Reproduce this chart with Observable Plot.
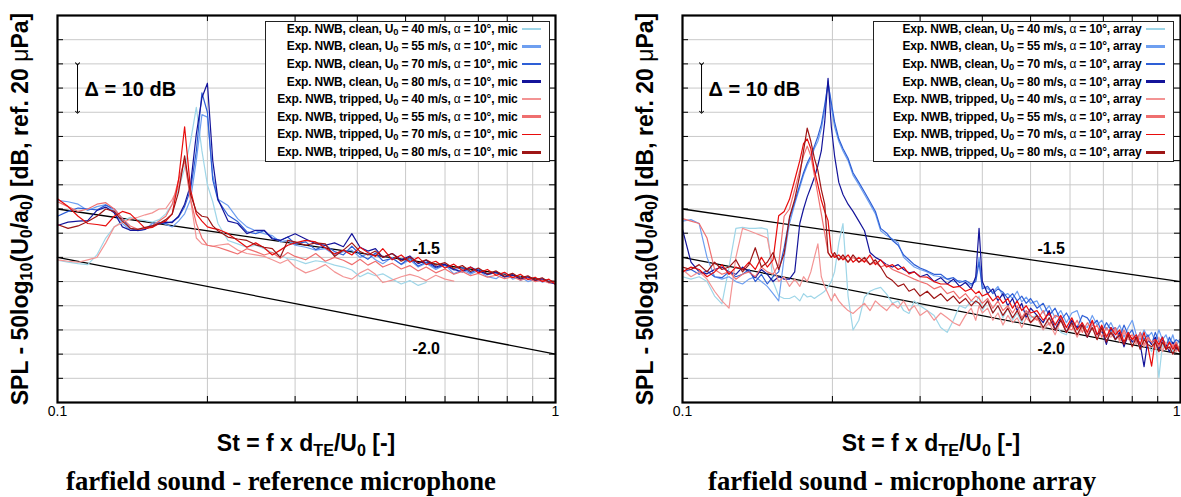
<!DOCTYPE html>
<html><head><meta charset="utf-8">
<script src="https://cdn.jsdelivr.net/npm/d3@7"></script>
<script src="https://cdn.jsdelivr.net/npm/@observablehq/plot@0.6"></script>
<style>
body{margin:0;background:#fff}
#wrap{position:relative;width:1181px;height:497px;overflow:hidden;background:#fff;font-family:"Liberation Sans",Arial,Helvetica,sans-serif;color:#000}
.panel{position:absolute;top:0}
.panel svg{max-width:none !important}
.ytitle{position:absolute;white-space:nowrap;font-weight:bold;font-size:23px;line-height:1;transform:translate(-50%,-50%) rotate(-90deg)}
.xtitle{position:absolute;white-space:nowrap;font-weight:bold;font-size:23px;line-height:1;transform:translateX(-50%)}
.caption{position:absolute;white-space:nowrap;font-family:"Liberation Serif","Times New Roman",serif;font-weight:bold;font-size:26.7px;line-height:1;transform:translateX(-50%)}
sub{font-size:70%;vertical-align:-0.3em;line-height:0}
.mu{font-weight:normal}
.legend{position:absolute;border:1.5px solid #222;background:#fff;box-sizing:border-box}
.lrow{position:absolute;white-space:nowrap;font-weight:bold;font-size:12px;line-height:14px;letter-spacing:-0.2px;text-align:right}
.lrow sub{font-size:78%;vertical-align:-2px}
.lsw{position:absolute}
</style></head><body><div id="wrap"></div>
<script>
// ---------- series identity ----------
const surfaces = ["clean","clean","clean","clean","tripped","tripped","tripped","tripped"];
const speeds = [40,55,70,80,40,55,70,80];
const seriesColors = ["#9fd6e8","#6e9ff0","#2e5fd6","#14149a","#f39494","#ef6f6f","#e80c0c","#9e1515"];
const swatchWidths = [1.5,3,1.5,3,1.5,3,1.5,3];

// ---------- axes / grid ----------
const xTicks = [0.1, 1];
const xTickLabels = ["0.1", "1"];
const gridSt = [0.2,0.3,0.4,0.5,0.6,0.7,0.8,0.9];
const gridDb = [5,10,15,20,25,30,35,40,45,50,55,60,65,70,75];

// ---------- reference slopes ----------
const refSt = [0.1, 1];
const ref15 = [40, 25];
const ref20 = [30, 10];
const slopeLabels = ["-1.5", "-2.0"];
const slopeLabelSt = [0.55, 0.55];
const slopeLabelDb = [31.8, 11.0];
const deltaText = "Δ = 10 dB";
const deltaDb = [70, 60];

// ---------- left panel: reference microphone ----------
const stLeft = [0.100,0.105,0.110,0.115,0.120,0.125,0.130,0.135,0.140,0.145,0.150,0.155,0.160,0.165,0.170,0.175,0.180,0.185,0.190,0.195,0.200,0.205,0.210,0.220,0.230,0.240,0.250,0.260,0.270,0.280,0.290,0.300,0.315,0.330,0.345,0.360,0.375,0.390,0.405,0.420,0.435,0.450,0.470,0.490,0.510,0.530,0.550,0.575,0.600,0.625,0.650,0.675,0.700,0.730,0.760,0.790,0.820,0.850,0.880,0.910,0.940,0.970,1.000];
const micClean40 = [29.4,29,28.7,28.5,30.5,34,36.3,37.5,38.3,37.8,37.6,37.3,37.8,39,41,44,48.5,54,61,52,
 45,41.5,37,33.5,32.8,32.1,32.5,31.8,31,30.5,29.7,29.5,28.7,29.3,29,28.4,28,27.4,26,26.8,26.2,26.6,25.5,24.5,25.2,24.2,24.8,
 null,null,null,null,null,null,null,null,null,null,null,null,null,null,null,null];
const micClean55 = [41.8,41.5,41,39.7,40.5,40.9,39.5,37,35.6,35.6,35.8,37,37.3,36.8,36.3,37.5,39,42,50,59.5,
 59,47,42,40.7,38,36.3,35.5,34.9,34.5,33.2,33.5,32.5,32.1,31.5,31.8,30.5,31.2,31.5,30,30.8,29.5,28.7,30,28.5,29.5,28,28.8,27.5,28.5,26.6,27.5,26.5,27.3,26,25.6,26.8,25.5,26,25,25.5,24.9,25.2,24.6];
const micClean70 = [38.5,39.5,40.2,40,39.8,40.8,40,38,36,35.5,35.9,36.6,37.2,37,37.4,38.3,40.5,44,52,64,
 60,46,41.8,38.7,37.4,35.3,34.9,35.5,34,33.5,34.2,32.8,33.2,31.6,32.5,31.2,30.5,32.3,30.6,29.6,30.9,29.3,29.8,28.6,29.9,28.2,29,27.8,28.4,27.4,27.9,26.8,27.6,26.4,26.9,25.9,26.4,25.3,25.9,25.1,25.6,24.8,25];
const micClean80 = [36.6,37.3,37.5,37.6,39.7,40.4,39.2,36.3,35.6,35.6,35.8,36.5,36.9,37.3,37.2,38.5,41,45,55.5,63,
 66,50,42,37.5,37,34.9,35.6,35.6,33.8,33.5,34.2,34.9,33.8,32.8,32.5,33,32.2,34.9,32.1,31.3,31.8,30,30.8,29.5,30.3,28.7,29.4,28,28.6,27.5,27,28,27.2,26.5,27,26,26.4,25.5,26,25.2,25.5,24.8,24.5];
const micTripped40 = [29.5,29.2,29,29.5,30,33,36.3,37.2,37.9,38.3,38.8,39.2,40,40.1,42,44.5,50.5,42,34,32.8,
 32.5,32.3,32.5,32.8,31.5,30.8,30.5,30.2,29.5,28.8,29.5,28,26.8,27.5,28.5,27,26,25.5,26.8,27.6,26.5,24.8,25.3,26,26.5,26,25.2,26.3,25.5,25.1,
 null,null,null,null,null,null,null,null,null,null,null,null,null];
const micTripped55 = [41.5,40.5,39.5,40,41,41.3,40,38,36.5,35.8,36,36.5,37.5,38.5,41,46,50,42,37,34,
 32.5,32.3,32.1,31.4,30.7,31.8,31.2,30.5,31,29.8,31,30.2,29.5,30.8,29.2,30,29.4,28.5,29.6,28.4,29.2,28,28.8,27.6,28.3,27.2,28,26.8,27.6,26.5,27.1,26.2,26.7,25.9,26.3,25.6,26,25.3,25.7,25,25.3,24.7,24.9];
const micTripped70 = [42.1,40.5,38.5,37,36.8,36.5,38.5,39.5,39,37.5,36,36.2,37,37.5,39,46,57,44,39,37.5,
 36.3,36,35.8,34.9,33.5,32.1,33,32,30.5,31.5,32.5,33,33.5,33.2,32,30.7,31.5,30.5,32.1,31,30.2,31.8,29.5,30.5,29,30,28.5,29.2,27.8,28.6,27.3,28,26.8,27.5,26.3,26.9,25.8,26.5,25.4,25.9,25,25.5,24.4];
const micTripped80 = [36.8,36,36.5,37.4,38.5,40,39.5,37.5,36,35.8,36.2,36.5,37,37.8,39,43.5,51,43,39.5,38.5,
 38.3,36.5,35.5,34.2,33.8,33.5,32.6,32.1,31.8,30,33.5,33.2,32.5,33,32.8,30.2,31.5,33,31.2,30.5,31.3,30,30.8,29.2,30.1,28.9,29.5,28.4,28.9,27.7,28.3,27.1,27.8,26.6,27.2,26.1,26.7,25.7,26.2,25.3,25.8,24.9,25.1];

// ---------- right panel: microphone array ----------
const stRight = [0.100,0.104,0.108,0.112,0.116,0.120,0.124,0.128,0.132,0.136,0.140,0.144,0.148,0.152,0.156,0.160,
 0.164,0.168,0.172,0.175,0.178,0.181,0.184,0.187,0.190,0.193,0.196,0.199,0.202,0.206,0.210,0.215,0.220,
 0.226,0.232,0.238,0.244,0.250,0.257,0.264,0.271,0.278,0.285,0.292,0.300,
 0.310,0.320,0.330,0.340,0.350,0.360,0.370,0.380,0.388,0.394,0.400,0.410,0.420,0.430,0.440,0.450,0.460,0.470,0.480,0.490,0.500,
 0.515,0.530,0.545,0.560,0.575,0.590,0.605,0.620,0.635,0.650,0.665,0.680,0.695,0.710,0.725,0.740,0.755,0.770,0.785,0.800,0.815,0.830,0.845,0.860,0.875,0.890,0.905,0.920,0.935,0.950,0.965,0.980,0.995];
const arrClean40 = [26,25.5,26,25,22,20.4,28,36,36.2,36,36,36.1,35.8,25,22,21.5,
 21.5,22,21,22.5,21.8,22,21.5,22,22.5,23,24,25,27,33,37,22,15,
 17,21.8,23,23.5,23.8,22.4,20.5,21,19,18.4,21,20,
 19,18,15.5,14.5,17,20,19.5,21,20.5,22,19,21,18.5,20,17.5,19.5,17,18.5,16.5,19,17.5,
 18,15,17.5,16.5,14.5,14,17,15,16,13.5,15.5,14,15,12.5,15,13,14,12,14.5,12.5,13.5,11,14,12,10.5,13,5.2,12,11,13,10.5,12,11];
const arrClean55 = [37.5,37.8,37,30,26,25.5,26,25,24.5,25.5,26,25,24,22.5,21,30,
 37,41,44.5,47,49,50.5,52.5,54,56.5,60.5,66.5,61,57,54,52,50,47,
 45,43,41,39,35.5,34.5,33.8,33,30,29,28,27.5,
 27,26.2,26,25.5,25,25.2,24.8,24.2,25.5,30,24,23.5,22.8,24,22,22.5,21.5,23,20.8,21.8,20.5,
 21,18.5,20,17.5,19,16.5,18.5,19,16,15.5,18,16,17,15,16.5,14.5,16,13.5,15.5,17,14,13,15,13.5,14.5,12.5,15,13,14,12,14,11.5,13];
const arrClean70 = [27,27.5,26.5,27.2,26,25.8,27,26,26.5,27.5,25,26.5,24.5,26,27,32,
 38,41.5,45,47.5,49.5,51,53,55,57.5,61.5,66,62,58,54.5,52.5,50.5,47.5,
 45.5,43.5,41.5,39.5,36,35,33.5,32.5,30.5,29.5,28.5,27.8,
 27.2,26.5,26.5,25.5,25.8,24.8,25.2,24.5,25,29,23.5,24,22.5,23.5,22.8,21.5,22.5,21,22,20.5,21.5,
 19.5,20.5,18,19.5,17,18.5,16.5,15.5,18,17.5,16,17,14.5,16.5,15,15.5,13.5,16,14,15,12.5,14.5,13,14,12,14.5,12.5,13.5,11.5,13.5,12,13,12.5];
const arrClean80 = [35.8,29,27,26.6,27.5,28,27,26.5,28,27,25.8,27.5,26.5,25,26,25.5,
 25.5,27,37,40,42.5,44.5,46.5,49,52,58,67,57,51,45.5,43,41,39.5,
 37.5,35.5,31,30,29.4,28.5,28,28.5,27.5,26.8,27,26,
 26.5,25,25.8,24.5,25.5,24,24.8,23.5,26,36,25,22.5,23.5,21,22.5,20,21.5,19,20.5,17.5,19.5,
 18,16.5,19,15,17.5,14.5,17,15.5,16,13.5,16.5,14,15,12,15.5,13,14.5,11.5,14,12.5,13.5,12,7.4,13,12,13.5,11,13,12,10.5,12.5,11,11.5];
const arrTripped40 = [27.5,26,27,25.5,23,21,19.5,30,36,35.5,35,34.5,34,28,25,26,
 24,25.5,24,26,25,27,30,32.8,26,24,22.5,21,22.5,21,20,19,18.4,
 19.5,20.5,19,21,20,19,20.5,19.5,21,19,20,18,
 19,17,18.5,17.5,16.5,15.9,18,19.5,17,20,18.5,19.5,17,18.5,16,18,16.5,17.5,15.5,17.5,16.5,
 17.5,15,16.5,14,17,14.5,16,13.5,15.5,14,16.5,13,15,14,13.5,15,12.5,14.5,13,13.5,12,14,11.5,13,12.5,11,13.5,10.5,12.5,11,12,10.5,11.5];
const arrTripped55 = [38,37.5,37,34,27.5,26.5,27,25.5,26.5,27,26,28,27,26.5,28.5,38.5,
 40,44,48,51,53,51,47,43,39,35,31,30,30.5,29.5,30,29,30,
 29,29.5,28.5,29,28,28.5,27.5,27,26.5,26,25.5,25,
 24.5,23.5,24,22.5,23,21.5,22.5,21,22,21.5,20.5,21.5,19.5,21,19,20,18.5,20,17.5,19,18,
 17,19,16,18,17.5,15.5,15,17,14.5,16.5,15,16,13.5,15.5,14,15.5,13,15,13.5,14,12.5,14.5,12,13.5,12.5,13,11.5,13.5,11,12.5,11.5,12.5,11];
const arrTripped70 = [27,28,27.5,26,27,28.5,26.5,28,27.5,29,27.5,30,28,29.5,38.6,39.5,
 42,46,50,53.5,54.5,52.5,48,45,41.8,39.5,37.6,31,30,30.5,29.5,30.5,29,
 30,29,30.5,28.5,29.5,28,28.5,27.5,28,26.6,27,26,
 25.9,25,24.5,24.5,23.8,24,23,23.5,22.5,23,22,22.5,21,22,20.5,21.5,19.5,21,19,20,18.5,
 19,17,18.5,16,18,15.5,17.5,15,16.5,14.5,17,14,16,13.5,15.5,14,15,12.5,14.5,13,14,12,14.5,11.5,7.5,13,12,13.5,11,12.5,11,12,10.5];
const arrTripped80 = [28,27.5,28.5,27,29,27.5,28,29.5,27,28.5,32,28,29,31,27.5,30.8,
 38.3,42,47,52,56.7,54,50.5,48,44,41,31,30,31,29.5,30.5,29,30.5,
 29,30,28.5,29.5,28,26,25.2,24,24.5,23,23.5,22,
 23,21.5,22.5,21,22,20.5,21.5,20,21,20.5,19.5,21,18.5,20,18,19.5,17.5,19,17,18.5,16.5,
 18,15.5,17.5,15,17,14.5,16.5,14,16,13.5,15.5,13,15.5,12.5,14.5,13,14,12,14,11.5,13.5,11,13,12,11.5,12.5,10.5,12.5,11,11.5,10,11.5,10.5];

const micSeries = [micClean40,micClean55,micClean70,micClean80,micTripped40,micTripped55,micTripped70,micTripped80];
const arrSeries = [arrClean40,arrClean55,arrClean70,arrClean80,arrTripped40,arrTripped55,arrTripped70,arrTripped80];

// ---------- build ----------
const seriesKeys = surfaces.map((s,i) => s + " " + speeds[i]);
function rowsOf(st, list){
  const rows = [];
  list.forEach((vals, k) => vals.forEach((v, i) => { if (v != null) rows.push({series: seriesKeys[k], St: st[i], v}); }));
  return rows;
}
const refRows = [];
refSt.forEach((s,i) => { refRows.push({name:"-1.5", St:s, v:ref15[i]}); refRows.push({name:"-2.0", St:s, v:ref20[i]}); });
const labelRows = slopeLabels.map((t,i) => ({t, St: slopeLabelSt[i], v: slopeLabelDb[i]}));

const FRAME_W = 498, FRAME_H = 387;
function panel(st, list, opt){
  const fmt = d => xTickLabels[xTicks.indexOf(d)];
  const axes = opt.lastTickEnd
    ? [Plot.axisX({ticks: xTicks.slice(0, -1), tickFormat: fmt, tickSize: 0, tickPadding: 4, fontSize: 14, label: null}),
       Plot.axisX({ticks: xTicks.slice(-1), tickFormat: fmt, tickSize: 0, tickPadding: 4, fontSize: 14, label: null, textAnchor: "end"})]
    : [Plot.axisX({ticks: xTicks, tickFormat: fmt, tickSize: 0, tickPadding: 4, fontSize: 14, label: null})];
  return Plot.plot({
    width: opt.marginLeft + FRAME_W + opt.marginRight,
    height: 15 + FRAME_H + 25,
    marginLeft: opt.marginLeft, marginRight: opt.marginRight, marginTop: 15, marginBottom: 25,
    style: {fontFamily: "Liberation Sans, Arial, Helvetica, sans-serif", fontSize: "14px", background: "transparent", overflow: "visible", color: "#000", maxWidth: "none"},
    x: {type: "log", domain: [0.1, 1]},
    y: {domain: [0, 80], axis: null},
    color: {domain: seriesKeys, range: seriesColors},
    marks: [
      Plot.ruleX(gridSt, {stroke: "#c9c9c9", strokeWidth: 1}),
      Plot.ruleY(gridDb, {stroke: "#c9c9c9", strokeWidth: 1}),
      Plot.ruleX(gridSt, {stroke: "#000", strokeWidth: 1, insetTop: FRAME_H - 6}),
      Plot.ruleX(gridSt, {stroke: "#000", strokeWidth: 1, insetBottom: FRAME_H - 6}),
      Plot.ruleY(gridDb, {stroke: "#000", strokeWidth: 1, insetRight: FRAME_W - 6}),
      Plot.ruleY(gridDb, {stroke: "#000", strokeWidth: 1, insetLeft: FRAME_W - 6}),
      Plot.line(refRows, {x: "St", y: "v", z: "name", stroke: "#000", strokeWidth: 1.3}),
      Plot.line(rowsOf(st, list), {x: "St", y: "v", z: "series", stroke: "series", strokeWidth: 1.2, strokeLinejoin: "round"}),
      Plot.text(labelRows, {x: "St", y: "v", text: "t", fontSize: 16, fontWeight: "bold", fill: "#000"}),
      Plot.link([opt.deltaSt], {x1: d => d, x2: d => d, y1: deltaDb[0], y2: deltaDb[1], stroke: "#000", strokeWidth: 1, markerStart: "arrow", markerEnd: "arrow"}),
      Plot.text([deltaText], {x: opt.deltaTextSt, y: (deltaDb[0] + deltaDb[1]) / 2 - 0.3, text: d => d, textAnchor: "start", fontSize: 20, fontWeight: "bold", fill: "#000"}),
      Plot.frame({stroke: "#000", strokeWidth: 2.2}),
      ...axes
    ]
  });
}

const wrap = document.getElementById("wrap");
function addDiv(cls, html, styles){
  const d = document.createElement("div");
  d.className = cls; d.innerHTML = html;
  Object.assign(d.style, styles);
  wrap.appendChild(d); return d;
}

const leftDiv = addDiv("panel", "", {left: "0px", width: "580px"});
leftDiv.appendChild(panel(stLeft, micSeries, {marginLeft: 57, marginRight: 25, deltaSt: 0.1097, deltaTextSt: 0.1133, lastTickEnd: false}));
const rightDiv = addDiv("panel", "", {left: "600px", width: "620px"});
rightDiv.appendChild(panel(stRight, arrSeries, {marginLeft: 82, marginRight: 30, deltaSt: 0.1092, deltaTextSt: 0.1128, lastTickEnd: true}));

// titles
const yTitle = 'SPL - 50log<sub>10</sub>(U<sub>0</sub>/a<sub>0</sub>) [dB, ref. 20 <span class="mu">μ</span>Pa]';
const xTitle = 'St = f x d<sub>TE</sub>/U<sub>0</sub> [-]';
addDiv("ytitle", yTitle, {left: "20px", top: "209px"});
addDiv("ytitle", yTitle, {left: "645px", top: "209px"});
addDiv("xtitle", xTitle, {left: "306px", top: "432px"});
addDiv("xtitle", xTitle, {left: "931px", top: "432px"});
addDiv("caption", "farfield sound - reference microphone", {left: "281px", top: "468px"});
addDiv("caption", "farfield sound - microphone array", {left: "902px", top: "468px"});

// legends
function legend(left, width, suffix){
  const top = 21, height = 141;
  const box = addDiv("legend", "", {left: left + "px", top: top + "px", width: width + "px", height: height + "px"});
  seriesKeys.forEach((k, i) => {
    const rowY = 29.3 + 17.6 * i - top - 1.5;
    const t = document.createElement("div");
    t.className = "lrow";
    t.innerHTML = `Exp. NWB, ${surfaces[i]}, U<sub>0</sub> = ${speeds[i]} m/s, <span style="font-weight:normal">α</span> = 10°, ${suffix}`;
    Object.assign(t.style, {right: "31.5px", top: (rowY - 7) + "px"});
    box.appendChild(t);
    const s = document.createElement("div");
    s.className = "lsw";
    Object.assign(s.style, {left: (width - 3 - 7 - 19) + "px", width: "19px", top: (rowY - swatchWidths[i] / 2) + "px", height: swatchWidths[i] + "px", background: seriesColors[i]});
    box.appendChild(s);
  });
}
legend(265, 285, "mic");
legend(873, 301, "array");
</script></body></html>
